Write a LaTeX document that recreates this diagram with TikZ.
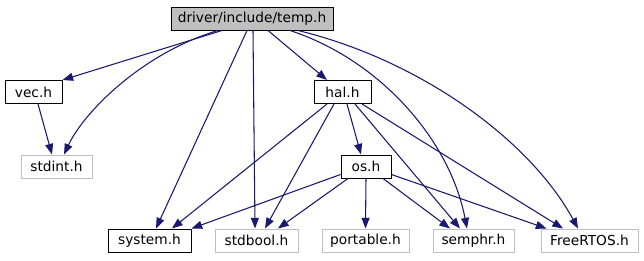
\documentclass[tikz,border=0pt]{standalone}
\usepackage{fontspec}
\setmainfont{DejaVu Sans}
\usetikzlibrary{arrows.meta,calc}
\definecolor{edgeblue}{HTML}{191970}
\definecolor{boxgray}{HTML}{BFBFBF}

\begin{document}
\begin{tikzpicture}[x=0.75pt,y=-0.75pt,
    file/.style={draw=black,line width=0.75pt,minimum height=17.25pt,inner sep=0pt,
      font=\fontsize{10.3}{12}\selectfont},
    extfile/.style={file,draw=boxgray},
    inc/.style={draw=edgeblue,line width=0.8pt,
      -{Triangle[length=8pt,width=6pt,fill=edgeblue]}}]
    \useasboundingbox (0,0) rectangle (644,261);

    % Draw the header boxes, one row per rank
    \node[file,fill=boxgray,minimum width=121.5pt] (temp) at (252,18.5) {driver/include/temp.h};

    \node[file,minimum width=42.75pt] (vec) at (33.5,92) {vec.h};
    \node[file,minimum width=42.75pt] (hal) at (342.5,92) {hal.h};

    \node[extfile,minimum width=53.25pt] (stdint) at (56.5,166.5) {stdint.h};
    \node[file,minimum width=37.5pt] (os) at (366,166.5) {os.h};

    \node[file,minimum width=62.25pt] (system) at (149.5,240.5) {system.h};
    \node[extfile,minimum width=62.25pt] (stdbool) at (256.5,240.5) {stdbool.h};
    \node[extfile,minimum width=65.25pt] (portable) at (365.5,240.5) {portable.h};
    \node[extfile,minimum width=60.75pt] (semphr) at (473.5,240.5) {semphr.h};
    \node[extfile,minimum width=72.75pt] (freertos) at (589.5,240.5) {FreeRTOS.h};

    % Draw the includes of temp.h
    \draw[inc] ($(temp.south)+(-30,0)$) -- (vec.north east);
    \draw[inc] ($(temp.south)+(-34,0)$) .. controls (145,52) and (85,110) .. ($(stdint.north)+(7.5,0)$);
    \draw[inc] ($(temp.south)+(-5,0)$) -- ($(system.north)+(6.5,0)$);
    \draw[inc] ($(temp.south)+(1,0)$) -- ($(stdbool.north)+(-1.5,0)$);
    \draw[inc] ($(temp.south)+(16,0)$) -- ($(hal.north)+(-15.5,0)$);
    \draw[inc] ($(temp.south)+(38,0)$) .. controls (380,60) and (450,140) .. ($(semphr.north)+(-6.5,0)$);
    \draw[inc] ($(temp.south)+(46,0)$) .. controls (420,60) and (530,140) .. ($(freertos.north)+(-11.5,0)$);

    % Draw the includes of vec.h
    \draw[inc] ($(vec.south)+(4.5,0)$) -- ($(stdint.north)+(-4.5,0)$);

    % Draw the includes of hal.h
    \draw[inc] ($(hal.south)+(-15.5,0)$) -- ($(system.north)+(22.5,0)$);
    \draw[inc] ($(hal.south)+(-8.5,0)$) -- ($(stdbool.north)+(8.5,0)$);
    \draw[inc] ($(hal.south)+(4.5,0)$) -- ($(os.north)+(-5,0)$);
    \draw[inc] ($(hal.south)+(12.5,0)$) -- ($(semphr.north)+(-13.5,0)$);
    \draw[inc] ($(hal.south)+(19.5,0)$) -- ($(freertos.north)+(-26.5,0)$);

    % Draw the includes of os.h
    \draw[inc] ($(os.south west)+(0,-4)$) -- (system.north east);
    \draw[inc] ($(os.south)+(-18,0)$) -- ($(stdbool.north)+(21.5,0)$);
    \draw[inc] (os.south) -- (portable.north);
    \draw[inc] ($(os.south)+(17,0)$) -- ($(semphr.north)+(-23.5,0)$);
    \draw[inc] ($(os.south east)+(0,-4)$) -- ($(freertos.north west)+(6,0)$);
\end{tikzpicture}
\end{document}
